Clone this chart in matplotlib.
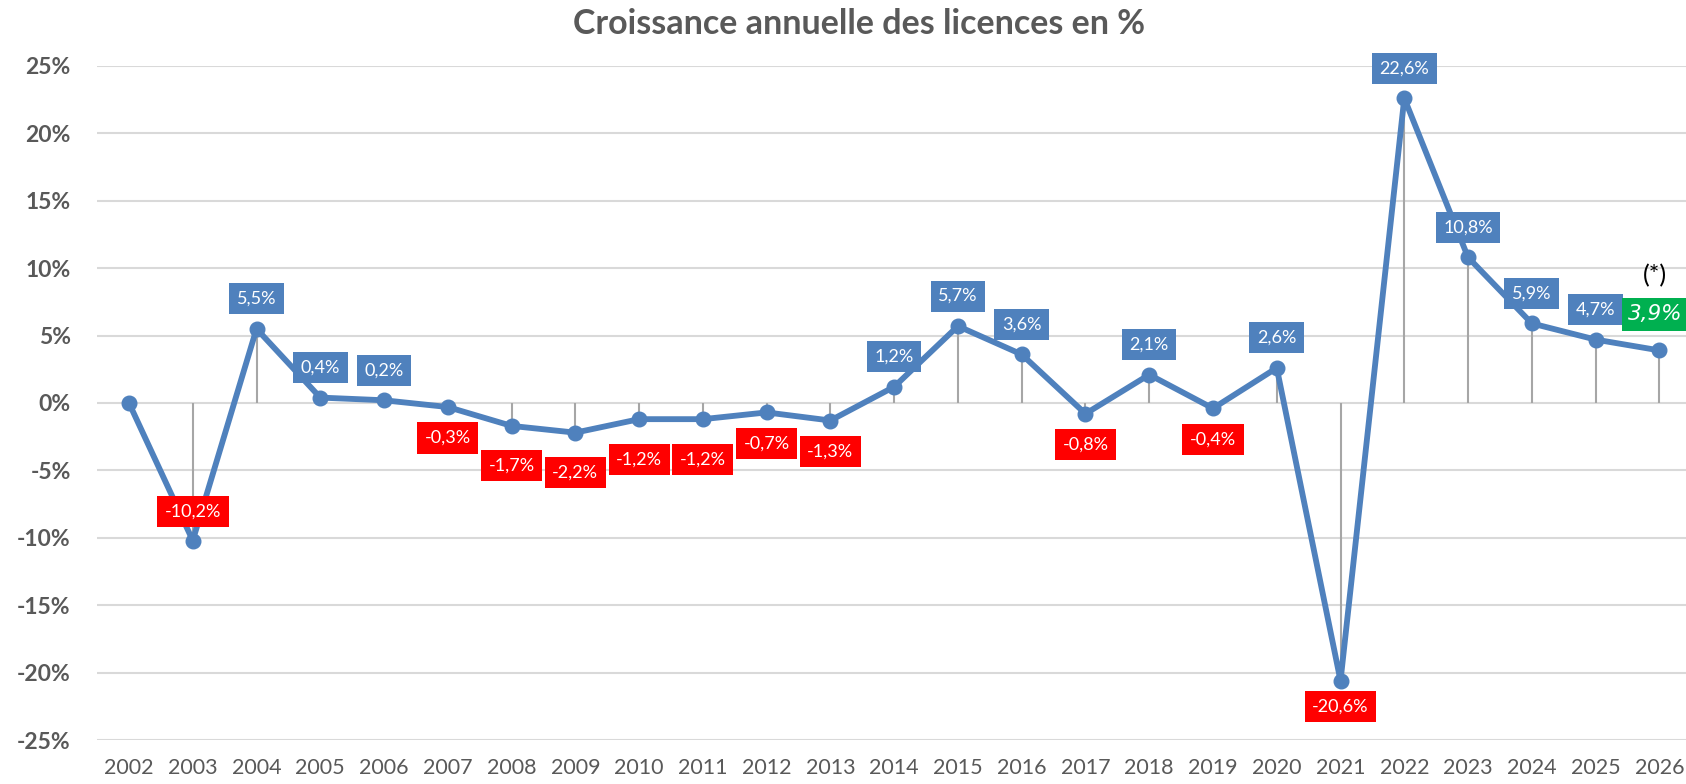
import matplotlib.pyplot as plt
from matplotlib.ticker import FuncFormatter

plt.rcParams['font.family'] = ['Lato', 'DejaVu Sans']

years = list(range(2002, 2027))
growth = [0.0, -10.2, 5.5, 0.4, 0.2, -0.3, -1.7, -2.2, -1.2, -1.2, -0.7, -1.3,
          1.2, 5.7, 3.6, -0.8, 2.1, -0.4, 2.6, -20.6, 22.6, 10.8, 5.9, 4.7, 3.9]
labels = ['', '-10,2%', '5,5%', '0,4%', '0,2%', '-0,3%', '-1,7%', '-2,2%',
          '-1,2%', '-1,2%', '-0,7%', '-1,3%', '1,2%', '5,7%', '3,6%', '-0,8%',
          '2,1%', '-0,4%', '2,6%', '-20,6%', '22,6%', '10,8%', '5,9%', '4,7%',
          '3,9%']

BLUE = '#4f81bd'
RED = '#ff0000'
GREEN = '#00b050'
GREY = '#595959'

fig = plt.figure(figsize=(16.86, 7.84), dpi=100)
ax = fig.add_axes([0.0576, 0.056, 0.9455, 0.86])

x = list(range(len(years)))

# drop lines from zero to each point
ax.vlines(x, 0, growth, color='#a6a6a6', linewidth=1.5, zorder=2)
ax.plot(x, growth, color=BLUE, linewidth=4.2, marker='o', markersize=10.5,
        zorder=3)

# label placement (pixel offsets): above for positive, below for negative
for i, (v, lab) in enumerate(zip(growth, labels)):
    if not lab:
        continue
    if i == len(growth) - 1:
        # last year is an estimate: green italic label with (*)
        ax.annotate(lab, (i, v), xytext=(-4, 36), textcoords='offset pixels',
                    ha='center', va='center', color='white', fontsize=15.5,
                    family='DejaVu Sans', style='oblique', zorder=5,
                    bbox=dict(boxstyle='square,pad=0.3', fc=GREEN, ec='none'))
        ax.annotate('(*)', (i, v), xytext=(-4, 75), textcoords='offset pixels',
                    ha='center', va='center', color='black', fontsize=18,
                    zorder=5)
        continue
    if i == 1:
        dy, fc = 29, RED
    elif v >= 0:
        dy, fc = 30, BLUE
    elif i in (6, 7, 8, 9):
        dy, fc = -40, RED
    else:
        dy, fc = -31, RED
    if i == 19:
        dy = -26
    ax.annotate(lab, (i, v), xytext=(0, dy), textcoords='offset pixels',
                ha='center', va='center', color='white', fontsize=13,
                zorder=5,
                bbox=dict(boxstyle='square,pad=0.42', fc=fc, ec='none'))

ax.set_xlim(-0.5, len(years) - 0.5)
ax.set_ylim(-25, 25)
ax.set_yticks(range(-25, 30, 5))
ax.yaxis.set_major_formatter(FuncFormatter(lambda v, p: f'{int(v)}%'))
ax.set_xticks(x)
ax.set_xticklabels([str(y) for y in years])
ax.grid(axis='y', color='#d9d9d9', linewidth=1.5, zorder=0)
ax.set_axisbelow(True)
for s in ax.spines.values():
    s.set_visible(False)
ax.tick_params(axis='both', length=0)
ax.tick_params(axis='y', pad=19, labelsize=16.5, labelcolor=GREY)
ax.tick_params(axis='x', pad=13, labelsize=15.5, labelcolor=GREY)
for t in ax.get_yticklabels():
    t.set_fontweight('bold')

fig.text(0.5095, 0.97, 'Croissance annuelle des licences en %', ha='center',
         va='center', fontsize=24.5, fontweight='bold', color=GREY)

fig.savefig('out.png', dpi=100)
